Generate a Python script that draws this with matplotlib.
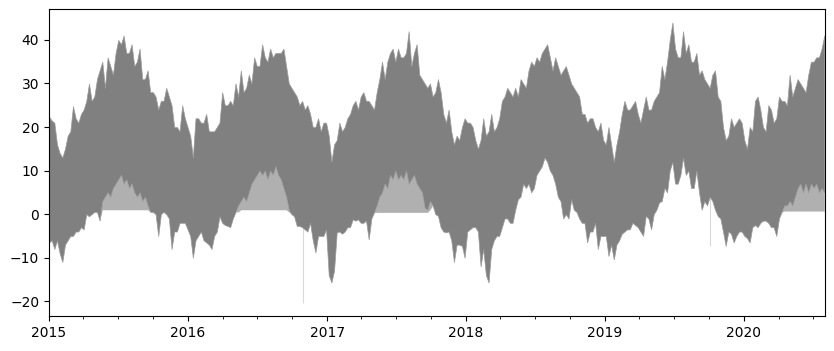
import numpy as np
import pandas as pd
import matplotlib
matplotlib.use("Agg")
import matplotlib.pyplot as plt
import matplotlib.dates as mdates

# weekly samples starting 2015-01-01 (292 weeks, to 2020-07-30)
dates = pd.date_range('2015-01-01', periods=292, freq='7D')

# ---- upper edge of the band (weekly maxima) ----
upper_a = [22.4, 21.5, 21, 16, 14, 13, 15, 18, 19, 24.8,
           22, 21, 23, 24, 26, 30, 26, 27, 31, 33,
           35, 29, 36, 34, 32, 37, 40, 39, 41, 37,
           37, 39, 34, 35, 38, 31, 31, 33, 28, 28,
           27, 24, 26, 26, 29, 27, 25, 20, 20, 19,
           25, 22, 20, 18, 13, 22, 22, 21, 21, 23,
           19, 19, 19, 20, 21, 28, 25, 25, 26, 25,
           30, 27, 33, 28, 29, 32, 30, 36, 34, 34,
           39, 36, 35, 38, 36, 37, 37, 37, 38, 34,
           30, 29, 28, 27, 25, 26, 24, 25]
upper_b = [23, 20, 20, 22, 19, 21, 21, 18, 12, 16,
           17, 21, 19, 20, 22, 23, 25, 26, 24, 27,
           28, 26, 26, 25, 24, 28, 31, 35, 31, 35,
           37, 38, 35, 38, 36, 36, 37, 42, 34, 37,
           39, 32, 31, 30, 29, 30, 27, 28, 31, 28,
           23, 21, 24, 19, 16, 18, 17, 20, 22, 21,
           21, 20, 17, 15, 17, 22, 18, 19, 23, 19,
           20, 22, 26, 27, 29, 28, 27, 29, 27, 31,
           30, 29, 33, 35, 34, 36, 35, 37, 38, 39,
           36, 33, 36, 34, 32, 33, 34, 32]
upper_c = [30, 29, 28, 27, 23, 23, 21, 22, 22, 20,
           19, 21, 17, 16, 20, 16, 12, 16, 19, 23,
           26, 24, 24, 25, 26, 23, 21, 24, 27, 24,
           24, 26, 27, 28, 34, 31, 35, 40, 44, 38,
           36, 36, 42, 37, 39, 35, 35, 37, 32, 33,
           31, 30, 29, 32, 33, 27, 26, 20, 17, 18,
           22, 20, 21, 22, 21, 17, 15, 20, 19, 26,
           27, 24, 20, 19, 25, 24, 21, 22, 27, 26,
           26, 25, 32, 27, 29, 31, 30, 29, 28, 32,
           35, 35, 36, 36, 38, 41]

# ---- outer lower edge (includes the sparse summer streaks) ----
lower_a = [-6.5, -6, -8, -6, -9, -11, -7, -6, -5, -5,
           -4, -4, -3, -3.5, 0, -0.5, 0, 0.5, 0.5, -1.5,
           1, 1, 1, 1, 1, 1, 1, 1, 1, 1,
           1, 1, 1, 1, 1, 1, 1, 1, 0.5, 0.5,
           0, -5, 0, 0.5, 0, -1, -8, -4, -4, -2,
           -2, -2, -3.5, -5, -10, -6, -5, -4, -6, -6.5,
           -7, -8, -5, -4, -0.5, -2, -2.5, -2.7, -3, -1,
           0.5, 0.5, 1, 1, 1, 1, 1, 1, 1, 1,
           1, 1, 1, 1, 1, 1, 1, 1, 1, 1,
           0.5, 0, -0.5, -2.7, -2.7, -3, -3.5, -4]
lower_b = [-2, -6, -8.8, -5, -5, -5, -3.5, -14, -15.7, -13,
           -4.2, -4, -4.5, -4, -3, -3, -1.2, -1.5, -1.2, -2,
           -2, -1.5, -5.8, -1, 0.4, 0.4, 0.4, 0.4, 0.4, 0.4,
           0.4, 0.4, 0.4, 0.4, 0.4, 0.4, 0.4, 0.4, 0.4, 0.4,
           0.4, 0.4, 0.4, 0.4, 0.4, 1, 2, 0, -0.4, -3,
           -4, -4.2, -4, -6, -11, -7, -7, -7.3, -10, -4,
           -3.5, -3, -3, -4, -12, -8, -14, -15.7, -8, -6,
           -5, -5, -3, -1, -1, -2, -2, 1, 3.4, 4,
           7, 6, 7, 5, 6, 9, 10, 11, 13, 12,
           10, 9, 7, 4, 3, -1, 0, -1]
lower_c = [3.4, 1, 0.5, -1, -2, -2, -6.5, -4, -4, -2,
           -8, -5, -5, -5, -9.6, -7, -10.4, -7, -6, -4.5,
           -4, -3.5, -3.5, -2, -2.5, -3, -4, -5, -0.4, -1,
           -3.5, 0, 1, 2.7, 3, 6, 5, 10, 12, 7,
           7, 9, 13, 9, 10, 6, 6, 10, 5, 1,
           3, 2, 4, 3, 1, -0.4, -1, -4, -7.3, -4,
           -4.5, -6.5, -5, -4, -4, -5, -5.5, -6.5, -3, -2.5,
           -3, -2, -1.5, -1.5, -2, -3, -3, -5, -1, 0.5,
           0.7, 0.7, 0.7, 0.7, 0.7, 0.7, 0.7, 0.7, 0.7, 0.7,
           0.7, 0.7, 0.7, 0.7, 0.7, 0.7]

# ---- lower edge of the solid (dense) part of the band ----
dense_a = [-6.5, -6, -8, -6, -9, -11, -7, -6, -5, -5,
           -4, -4, -3, -3.5, 0, -0.5, 0, 0.5, 0.5, -1.5,
           3, 4, 5, 4, 6, 7, 8, 9, 7, 8,
           6, 7, 5, 4, 5, 3, 4, 2, 0.5, 0.5,
           0, -5, 0, 0.5, 0, -1, -8, -4, -4, -2,
           -2, -2, -3.5, -5, -10, -6, -5, -4, -6, -6.5,
           -7, -8, -5, -4, -0.5, -2, -2.5, -2.7, -3, -1,
           0.5, 2, 3, 4, 3, 5, 7, 8, 9, 10,
           9, 10, 8, 10, 9, 11, 9, 8, 6, 4,
           1, 0, -0.5, -2.7, -2.7, -3, -3.5, -4]
dense_b = [-2, -6, -8.8, -5, -5, -5, -3.5, -14, -15.7, -13,
           -4.2, -4, -4.5, -4, -3, -3, -1.2, -1.5, -1.2, -2,
           -2, -1.5, -5.8, -1, 0.4, 2, 4, 5, 7, 6,
           9, 8, 10, 8, 9, 8, 10, 7, 8, 9,
           7, 6, 5, 1.5, 1, 3, 2, 0, -0.4, -3,
           -4, -4.2, -4, -6, -11, -7, -7, -7.3, -10, -4,
           -3.5, -3, -3, -4, -12, -8, -14, -15.7, -8, -6,
           -5, -5, -3, -1, -1, -2, -2, 1, 3.4, 4,
           7, 6, 7, 5, 6, 9, 10, 11, 13, 12,
           10, 9, 7, 4, 3, -1, 0, -1]
dense_c = [3.4, 1, 0.5, -1, -2, -2, -6.5, -4, -4, -2,
           -8, -5, -5, -5, -9.6, -7, -10.4, -7, -6, -4.5,
           -4, -3.5, -3.5, -2, -2.5, -3, -4, -5, -0.4, -1,
           -3.5, 0, 1, 2.7, 3, 6, 5, 10, 12, 7,
           7, 9, 13, 9, 10, 6, 6, 10, 5, 1,
           3, 2, 4, 3, 1, -0.4, -1, -4, -7.3, -4,
           -4.5, -6.5, -5, -4, -4, -5, -5.5, -6.5, -3, -2.5,
           -3, -2, -1.5, -1.5, -2, -3, -3, -5, -1, 0.5,
           2, 2, 3, 2, 4, 6, 7, 5, 7, 5,
           7, 6, 7, 5, 6, 5]

# faint isolated drops
faint_dates = ['2016-10-29', '2019-10-03']
faint_vals = [-20.5, -7.4]

upper = np.array(upper_a + upper_b + upper_c, float)
lower = np.array(lower_a + lower_b + lower_c, float)
dense = np.array(dense_a + dense_b + dense_c, float)
n = min(len(dates), len(upper), len(lower), len(dense))
dates, upper, lower, dense = dates[:n], upper[:n], lower[:n], dense[:n]

grey = '#808080'
fig = plt.figure(figsize=(8.34, 3.51), dpi=100)
ax = fig.add_axes([49 / 834, 35 / 351, 776 / 834, 307 / 351])

ax.fill_between(dates, lower, dense, color=grey, alpha=0.62, linewidth=0)
ax.fill_between(dates, dense, upper, facecolor=grey, edgecolor='#9a9a9a', linewidth=0.5)

fd = pd.to_datetime(faint_dates)
base = np.interp(mdates.date2num(fd), mdates.date2num(dates), lower)
ax.vlines(fd, base, faint_vals, color=grey, alpha=0.3, linewidth=0.8)

ax.set_xlim(pd.Timestamp(2015, 1, 1), pd.Timestamp(2020, 8, 1))
ax.set_ylim(-23.4, 47.1)
ax.xaxis.set_major_locator(mdates.YearLocator())
ax.xaxis.set_major_formatter(mdates.DateFormatter('%Y'))
ax.xaxis.set_minor_locator(mdates.MonthLocator(bymonth=[4, 7, 10]))
ax.set_yticks([-20, -10, 0, 10, 20, 30, 40])

fig.savefig('out.png', dpi=100)
